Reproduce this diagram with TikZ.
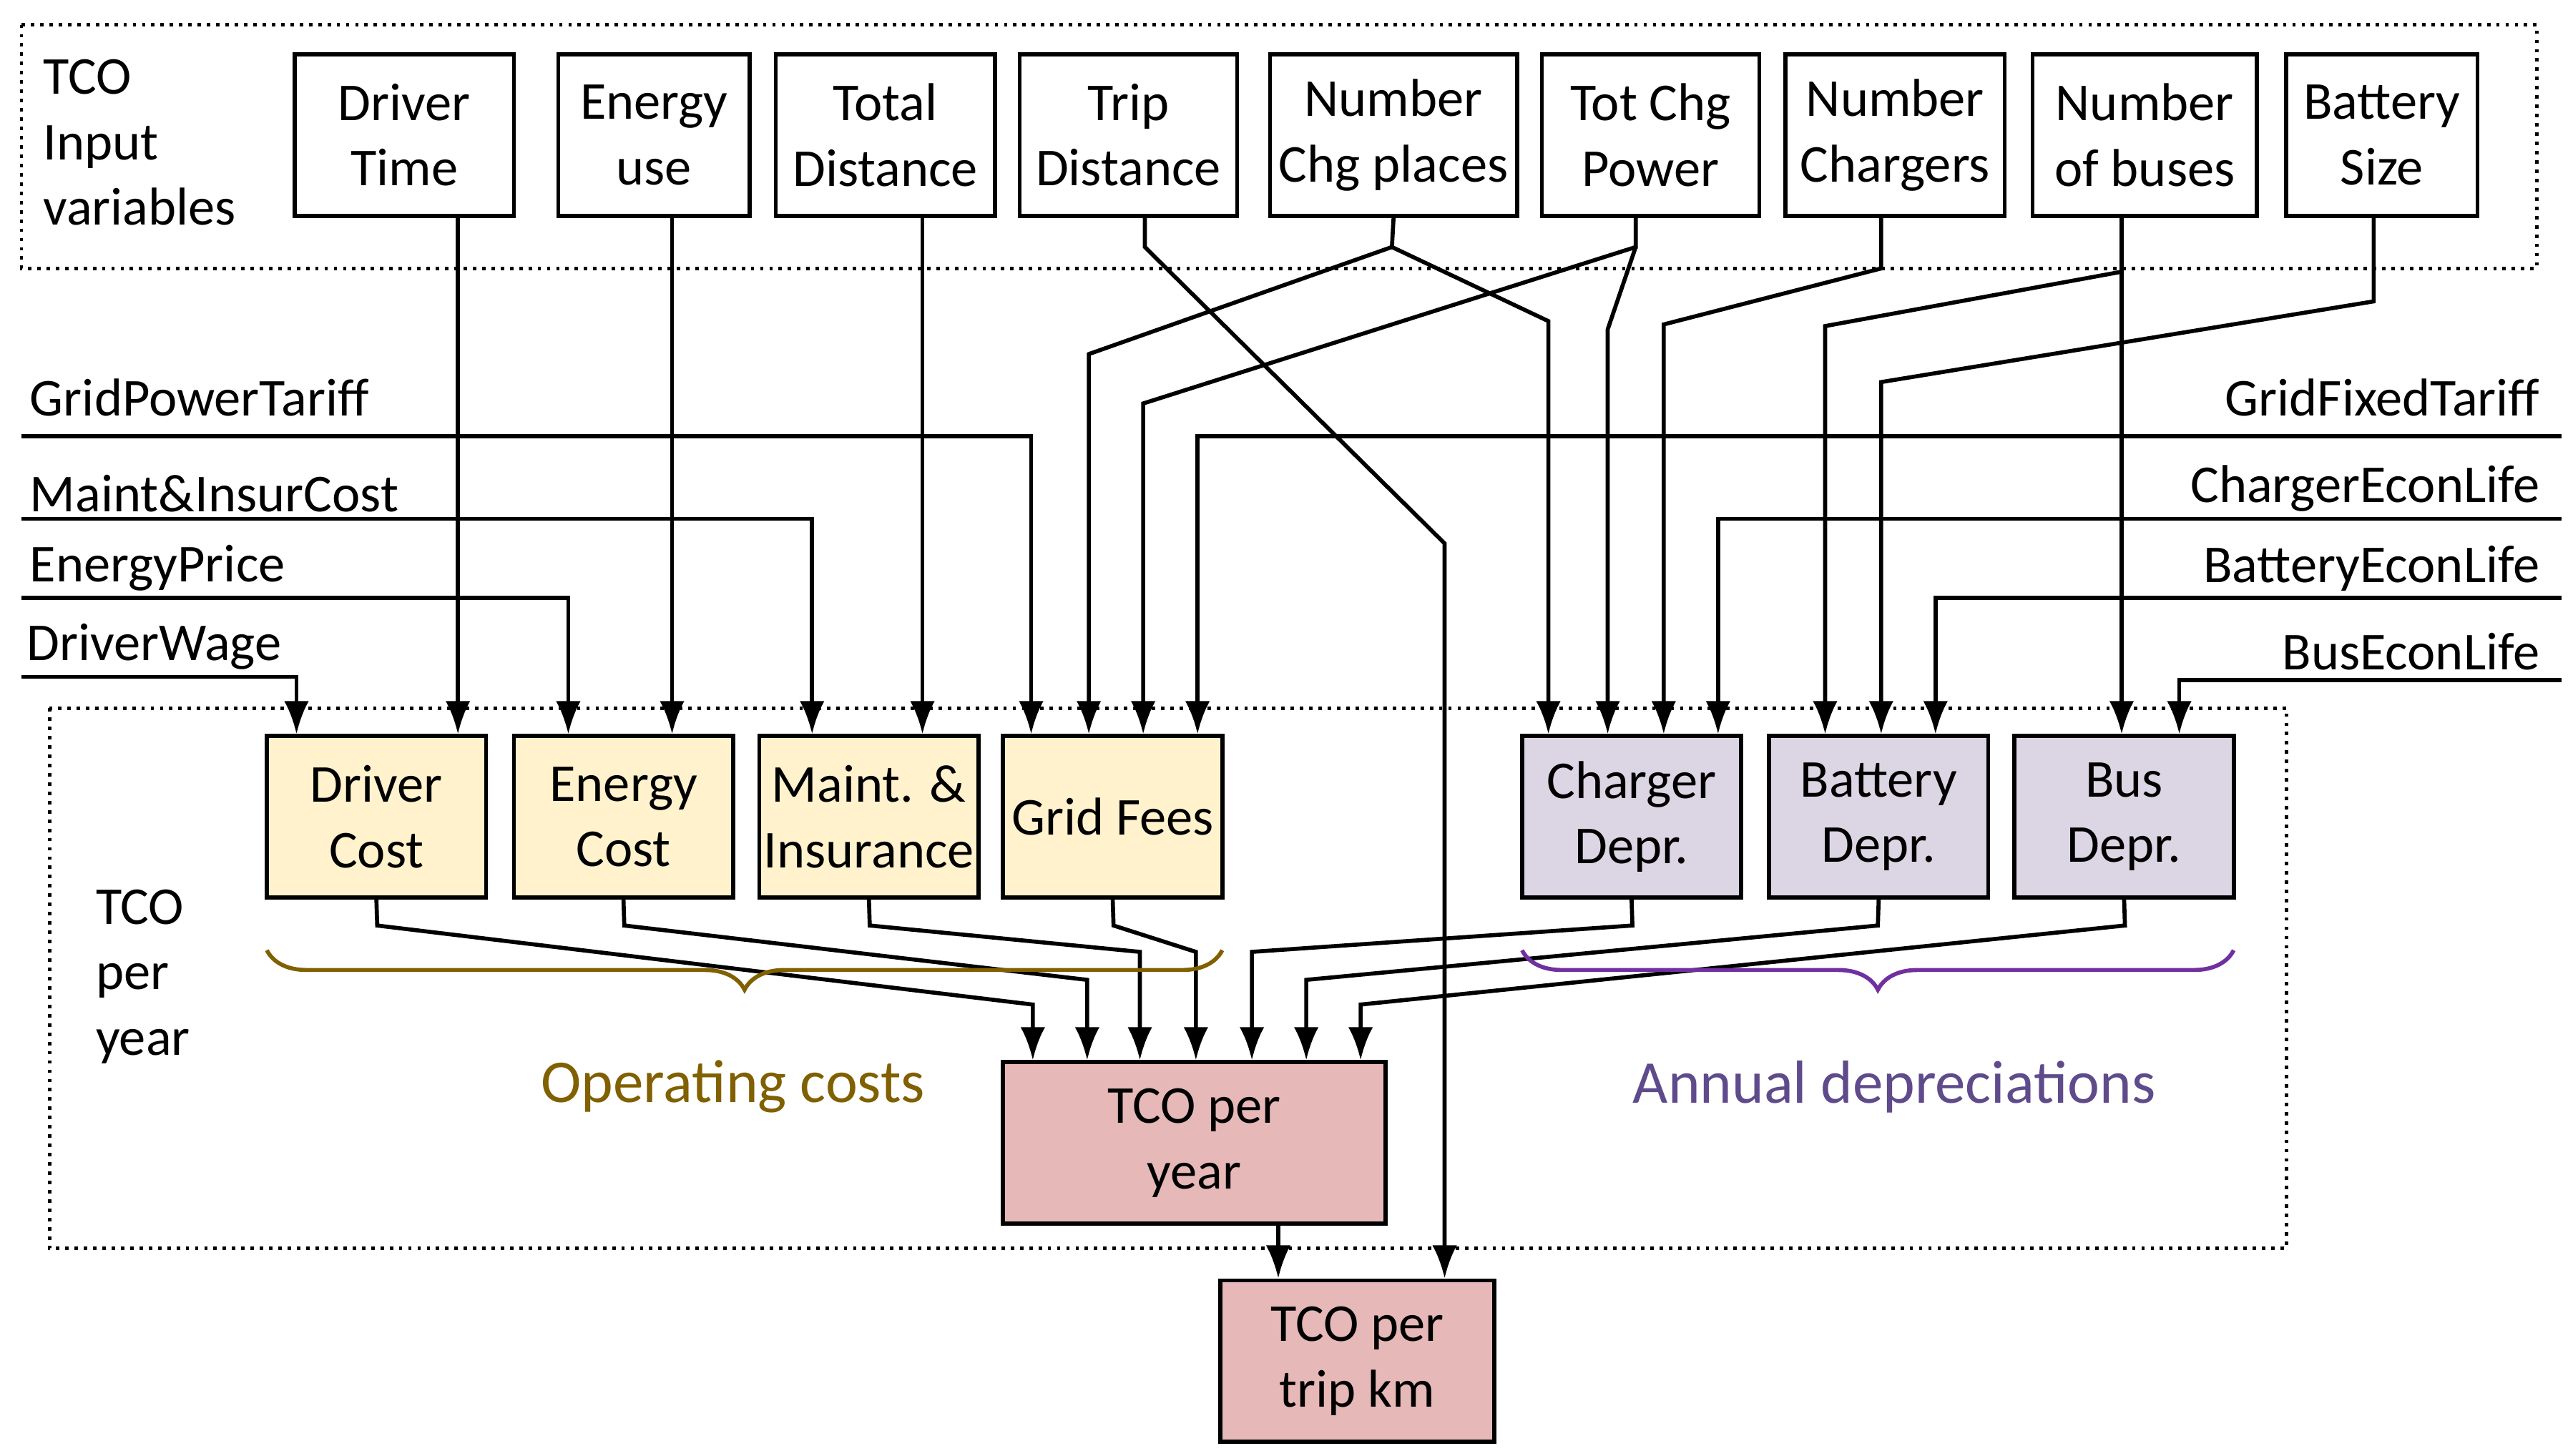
\documentclass[tikz,border=0pt]{standalone}
\usepackage{fontspec}
\setmainfont{Carlito}
\usepackage{xcolor}
\usetikzlibrary{arrows.meta}
\usetikzlibrary{decorations.pathreplacing}
\usetikzlibrary{calc}
\definecolor{opfill}{HTML}{FFF2CC}
\definecolor{depfill}{HTML}{DCD6E4}
\definecolor{tcofill}{HTML}{E6B8B7}
\definecolor{opbrown}{HTML}{806000}
\definecolor{depline}{HTML}{7030A0}
\definecolor{deptext}{HTML}{5F4B8B}

\begin{document}
\begin{tikzpicture}[x=0.01cm,y=-0.01cm,line width=0.7pt,
    every node/.style={font=\fontsize{9.2}{11.3}\selectfont,align=center,inner sep=0pt},
    box/.style={draw,minimum height=0.98cm},
    arr/.style={-{Latex[length=2mm,width=1.5mm]}},
    frame/.style={densely dotted,line width=0.6pt}]
        \useasboundingbox (0,0) rectangle (1562,884);
        \draw[frame] (13,15) rectangle (1540,163);
        \draw[frame] (30,430) rectangle (1388,758);
        \node[anchor=north west,align=left] at (25,35) {TCO\\Input\\variables};
        \node[anchor=north west,align=left] at (57,539) {TCO\\per\\year};
        % input variables
        \node[box,minimum width=1.33cm] (dt) at (245.5,82) {Driver\\Time};
        \node[box,minimum width=1.16cm] (eu) at (397,82) {Energy\\use};
        \node[box,minimum width=1.33cm] (td) at (537.5,82) {Total\\Distance};
        \node[box,minimum width=1.32cm] (trd) at (685,82) {Trip\\Distance};
        \node[box,minimum width=1.50cm] (ncp) at (846,82) {Number\\Chg places};
        \node[box,minimum width=1.32cm] (tcp) at (1002,82) {Tot Chg\\Power};
        \node[box,minimum width=1.33cm] (nch) at (1150.5,82) {Number\\Chargers};
        \node[box,minimum width=1.36cm] (nb) at (1302,82) {Number\\of buses};
        \node[box,minimum width=1.16cm] (bs) at (1446,82) {Battery\\Size};
        % annual costs
        \node[box,fill=opfill,minimum width=1.33cm] (dc) at (228.5,496) {Driver\\Cost};
        \node[box,fill=opfill,minimum width=1.33cm] (ec) at (378.5,496) {Energy\\Cost};
        \node[box,fill=opfill,minimum width=1.33cm] (mi) at (527.5,496) {Maint. \&\\Insurance};
        \node[box,fill=opfill,minimum width=1.33cm] (gf) at (675.5,496) {Grid Fees};
        \node[box,fill=depfill,minimum width=1.33cm] (cd) at (990.5,496) {Charger\\Depr.};
        \node[box,fill=depfill,minimum width=1.33cm] (bd) at (1140.5,496) {Battery\\Depr.};
        \node[box,fill=depfill,minimum width=1.33cm] (bud) at (1289.5,496) {Bus\\Depr.};
        \node[box,fill=tcofill,minimum width=2.32cm] (ty) at (725,694) {TCO per\\year};
        \node[box,fill=tcofill,minimum width=1.66cm] (tk) at (824,826.5) {TCO per\\trip km};
        % parameters
        \node[anchor=south west] at (17,254) {GridPowerTariff};
        \node[anchor=south west] at (17,312) {Maint\&InsurCost};
        \node[anchor=south west] at (17,360) {EnergyPrice};
        \node[anchor=south west] at (15,408) {DriverWage};
        \node[anchor=south east] at (1543,254) {GridFixedTariff};
        \node[anchor=south east] at (1543,312) {ChargerEconLife};
        \node[anchor=south east] at (1543,360) {BatteryEconLife};
        \node[anchor=south east] at (1543,408) {BusEconLife};
        \draw[arr] (13,265) -- (626,265) -- (gf.north -| 626,0);
        \draw[arr] (13,315) -- (493,315) -- (mi.north -| 493,0);
        \draw[arr] (13,363) -- (345,363) -- (ec.north -| 345,0);
        \draw[arr] (13,411) -- (180,411) -- (dc.north -| 180,0);
        \draw[arr] (1555,265) -- (727,265) -- (gf.north -| 727,0);
        \draw[arr] (1555,315) -- (1043,315) -- (cd.north -| 1043,0);
        \draw[arr] (1555,363) -- (1175,363) -- (bd.north -| 1175,0);
        \draw[arr] (1555,413) -- (1323,413) -- (bud.north -| 1323,0);
        % input connectors
        \draw[arr] (dt.south -| 278,0) -- (dc.north -| 278,0);
        \draw[arr] (eu.south -| 408,0) -- (ec.north -| 408,0);
        \draw[arr] (td.south -| 560,0) -- (mi.north -| 560,0);
        \draw[arr] (trd.south -| 695,0) -- (695,150) -- (877,330) -- (tk.north -| 877,0);
        \draw[arr] (ncp.south) -- (845,150) -- (661,215) -- (gf.north -| 661,0);
        \draw[arr] (845,150) -- (940,195) -- (cd.north -| 940,0);
        \draw[arr] (tcp.south -| 993,0) -- (993,150) -- (694,245) -- (gf.north -| 694,0);
        \draw[arr] (993,150) -- (976,200) -- (cd.north -| 976,0);
        \draw[arr] (nch.south -| 1142,0) -- (1142,163) -- (1010,197) -- (cd.north -| 1010,0);
        \draw[arr] (nb.south -| 1288,0) -- (bud.north -| 1288,0);
        \draw[arr] (1288,165) -- (1108,198) -- (bd.north -| 1108,0);
        \draw[arr] (bs.south -| 1441,0) -- (1441,183) -- (1142,232) -- (bd.north -| 1142,0);
        % to TCO per year
        \draw[arr] (dc.south) -- (229,562) -- (627,610) -- (ty.north -| 627,0);
        \draw[arr] (ec.south) -- (379,562) -- (660,595) -- (ty.north -| 660,0);
        \draw[arr] (mi.south) -- (528,562) -- (692,578) -- (ty.north -| 692,0);
        \draw[arr] (gf.south) -- (676,562) -- (726,578) -- (ty.north -| 726,0);
        \draw[arr] (cd.south) -- (991,562) -- (760,578) -- (ty.north -| 760,0);
        \draw[arr] (bd.south) -- (1140,562) -- (793,595) -- (ty.north -| 793,0);
        \draw[arr] (bud.south) -- (1290,562) -- (826,610) -- (ty.north -| 826,0);
        \draw[arr] (ty.south -| 776,0) -- (tk.north -| 776,0);
        % braces
        \draw[opbrown,decorate,decoration={brace,mirror,amplitude=0.24cm,aspect=0.5}] (162,577) -- (742,577);
        \draw[depline,decorate,decoration={brace,mirror,amplitude=0.24cm,aspect=0.5}] (924,577) -- (1356,577);
        \node[text=opbrown,font=\fontsize{10.5}{12.5}\selectfont] at (445,660) {Operating costs};
        \node[text=deptext,font=\fontsize{10.5}{12.5}\selectfont] at (1150,660) {Annual depreciations};
    \end{tikzpicture}
\end{document}
